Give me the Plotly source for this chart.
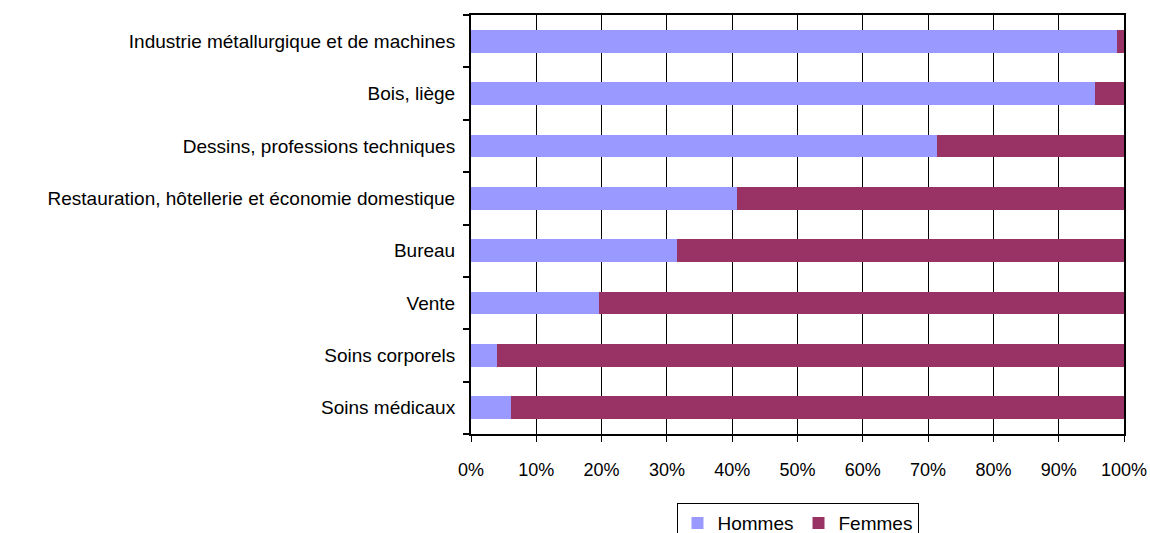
import plotly.graph_objects as go

categories = [
    "Soins médicaux",
    "Soins corporels",
    "Vente",
    "Bureau",
    "Restauration, hôtellerie et économie domestique",
    "Dessins, professions techniques",
    "Bois, liège",
    "Industrie métallurgique et de machines",
]
hommes = [6.1, 4.0, 19.6, 31.5, 40.7, 71.4, 95.6, 98.9]
femmes = [round(100 - h, 1) for h in hommes]
tick_vals = [0, 10, 20, 30, 40, 50, 60, 70, 80, 90, 100]
tick_text = [f"{v}%" for v in tick_vals]

font_family = "Liberation Sans, Arial, sans-serif"

fig = go.Figure()
fig.add_trace(go.Bar(y=categories, x=hommes, name="Hommes", orientation="h",
                     marker=dict(color="#9999FF", line=dict(width=0))))
fig.add_trace(go.Bar(y=categories, x=femmes, name="Femmes", orientation="h",
                     marker=dict(color="#993366", line=dict(width=0))))

fig.update_layout(
    barmode="stack",
    bargap=0.567,
    width=1150, height=533,
    margin=dict(l=471, r=26, t=15, b=99, autoexpand=False),
    paper_bgcolor="white", plot_bgcolor="white",
    font=dict(family=font_family, size=19, color="black"),
    showlegend=True,
    legend=dict(orientation="h", x=0.5, xanchor="center", y=-0.165, yanchor="top",
                bordercolor="black", borderwidth=1, font=dict(size=19),
                traceorder="normal", itemwidth=30, tracegroupgap=0),
)
fig.update_xaxes(
    range=[0, 100], tickvals=tick_vals, ticktext=tick_text,
    tickfont=dict(size=18),
    showgrid=True, gridcolor="black", gridwidth=1,
    showline=True, linecolor="black", linewidth=2, mirror=True,
    ticks="outside", ticklen=6, tickcolor="black", tickwidth=1,
    ticklabelstandoff=12, zeroline=False, automargin=False,
)
fig.update_yaxes(
    tickfont=dict(size=19),
    showline=True, linecolor="black", linewidth=2, mirror=True,
    ticks="outside", ticklen=6, tickcolor="black", tickwidth=2,
    tickson="boundaries", showgrid=False, ticklabelstandoff=10,
    automargin=False,
)

fig.write_html(
    "out.html",
    config={"displayModeBar": False},
    post_script="document.body.style.margin='0';document.body.style.overflow='hidden';",
)
